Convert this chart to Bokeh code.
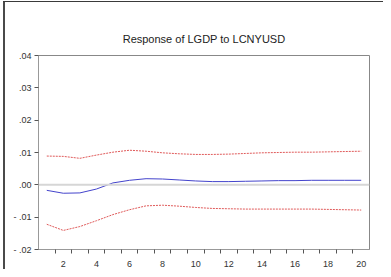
from bokeh.plotting import figure
from bokeh.models import FixedTicker, CustomJSTickFormatter, Span, Range1d
from bokeh.embed import file_html
from bokeh.resources import INLINE

periods = list(range(1, 21))
response = [-0.0017, -0.0026, -0.0025, -0.0013, 0.0006, 0.0014, 0.0019, 0.0018, 0.0015, 0.0012,
            0.0010, 0.0010, 0.0011, 0.0012, 0.0013, 0.0013, 0.0014, 0.0014, 0.0014, 0.0014]
upper = [0.0089, 0.0088, 0.0082, 0.0092, 0.0101, 0.0107, 0.0104, 0.0099, 0.0096, 0.0094,
         0.0094, 0.0095, 0.0097, 0.0099, 0.0100, 0.0101, 0.0101, 0.0102, 0.0103, 0.0104]
lower = [-0.0122, -0.0141, -0.0129, -0.0111, -0.0092, -0.0077, -0.0065, -0.0063, -0.0066, -0.0070,
         -0.0073, -0.0074, -0.0075, -0.0075, -0.0075, -0.0075, -0.0075, -0.0076, -0.0077, -0.0078]
y_ticks = [-0.02, -0.01, 0.0, 0.01, 0.02, 0.03, 0.04]
x_label_ticks = [2, 4, 6, 8, 10, 12, 14, 16, 18, 20]
x_tick_marks = [1.5, 2.5, 3.5, 4.5, 5.5, 6.5, 7.5, 8.5, 9.5, 10.5,
                11.5, 12.5, 13.5, 14.5, 15.5, 16.5, 17.5, 18.5, 19.5]
title_text = "Response of LGDP to LCNYUSD"

p = figure(width=383, height=269, output_backend="svg", toolbar_location=None,
           x_range=Range1d(0.5, 20.5), y_range=Range1d(-0.02, 0.04),
           min_border_left=38, min_border_right=14, min_border_top=55, min_border_bottom=15,
           title=title_text)
p.border_fill_color = None
p.background_fill_color = "white"
p.styles = {
    "background-color": "white",
    "box-shadow": ("inset 0 1px 0 0 #ffffff, inset 3px 0 0 0 #ffffff, "
                   "inset 0 2px 0 0 #3a3a3a, inset 5px 0 0 0 #4a4a4a"),
}
p.title.align = "center"
p.title.text_font = "Liberation Sans"
p.title.text_font_size = "11px"
p.title.text_font_style = "normal"
p.title.text_color = "#222222"
p.title.standoff = 22

p.xgrid.visible = False
p.ygrid.visible = False
p.outline_line_color = "#888888"
p.outline_line_width = 1

p.xaxis.ticker = FixedTicker(ticks=x_label_ticks, minor_ticks=x_tick_marks)
p.yaxis.ticker = FixedTicker(ticks=y_ticks, minor_ticks=[])
p.yaxis.formatter = CustomJSTickFormatter(code="""
    var s = tick.toFixed(2);
    if (s.startsWith('-0.')) { return '- .' + s.slice(3); }
    if (s.startsWith('0.')) { return s.slice(1); }
    return s;
""")
for ax in (p.xaxis, p.yaxis):
    ax.axis_line_color = "#999999"
    ax.major_tick_line_color = "#555555"
    ax.minor_tick_line_color = "#555555"
    ax.major_tick_out = 4
    ax.major_tick_in = 0
    ax.minor_tick_out = 4
    ax.minor_tick_in = 0
    ax.major_label_text_font = "Liberation Sans"
    ax.major_label_text_font_size = "9px"
    ax.major_label_text_color = "#333333"
    ax.major_label_standoff = 3
p.xaxis.major_tick_out = 0
p.xaxis.major_label_standoff = 7
p.yaxis.minor_tick_line_color = None

zero = Span(location=0, dimension="width", line_color="#d6d6d6", line_width=2)
p.add_layout(zero)

p.line(periods, upper, line_color="#e05a5a", line_width=1, line_dash="2 1")
p.line(periods, lower, line_color="#e05a5a", line_width=1, line_dash="2 1")
p.line(periods, response, line_color="#4444cc", line_width=1)

open("out.html", "w").write(file_html(p, INLINE))
